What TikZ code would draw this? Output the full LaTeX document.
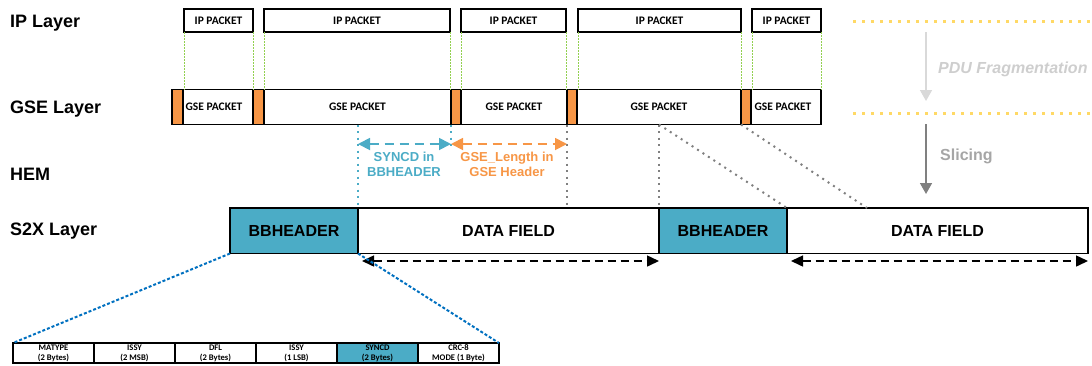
\documentclass[tikz,border=0pt]{standalone}
\usepackage{fontspec}
\setmainfont{Liberation Sans}
\newfontfamily\calib{Carlito}
\usetikzlibrary{arrows.meta}
\definecolor{teal}{HTML}{4BACC6}
\definecolor{orng}{HTML}{F79646}
\definecolor{grn}{HTML}{92D050}
\definecolor{yel}{HTML}{FFD966}
\definecolor{gry}{HTML}{808080}
\definecolor{lgry}{HTML}{D9D9D9}
\definecolor{mgry}{HTML}{A6A6A6}
\definecolor{dblue}{HTML}{0070C0}
\tikzset{
  layerlbl/.style={anchor=west, inner sep=0, font=\fontsize{18}{21}\selectfont\bfseries},
  pkt/.style={draw, line width=1.1pt, inner sep=0, outer sep=0, anchor=north west,
    font=\calib\bfseries\fontsize{11.5}{13}\selectfont},
  hdrmark/.style={draw, fill=orng, line width=1.1pt, inner sep=0, outer sep=0, anchor=north west},
  s2x/.style={draw, line width=1.2pt, inner sep=0, outer sep=0, anchor=north west,
    minimum height=45.5pt, font=\fontsize{16}{18}\selectfont\bfseries},
  cell/.style={draw, line width=1.1pt, inner sep=0, outer sep=0, anchor=north west,
    minimum width=81pt, minimum height=20pt, align=center,
    font=\calib\bfseries\fontsize{8.6}{10}\selectfont},
  grline/.style={grn, line width=1pt, dash pattern=on 1.5pt off 1.5pt},
  gydot/.style={gry, line width=2pt, dash pattern=on 2pt off 4.5pt},
  bldot/.style={teal, line width=2pt, dash pattern=on 2pt off 4.5pt},
  dbline/.style={dblue, line width=2pt, dash pattern=on 3pt off 2pt},
  yeldot/.style={yel, line width=3pt, dash pattern=on 3pt off 6pt},
  blkarr/.style={black, line width=1.5pt, dash pattern=on 8pt off 5pt,
    {Triangle[length=12pt,width=11pt]}-{Triangle[length=12pt,width=11pt]}},
  hemarr/.style={line width=1.8pt, dash pattern=on 9pt off 6pt,
    {Triangle[length=12pt,width=12pt]}-{Triangle[length=12pt,width=12pt]}},
  hemtxt/.style={align=center, inner sep=0, font=\fontsize{13}{15}\selectfont\bfseries},
}
\begin{document}
\begin{tikzpicture}[x=1pt,y=-1pt]
\useasboundingbox (0,0) rectangle (1092,365);

% layer labels
\node[layerlbl] (lip)  at (10,23)  {IP Layer};
\node[layerlbl] (lgse) at (10,109) {GSE Layer};
\node[layerlbl] (lhem) at (10,174) {HEM};
\node[layerlbl] (ls2x) at (10,231) {S2X Layer};

% IP packets
\node[pkt, minimum width=69pt,  minimum height=23pt] (ip1) at (184,9) {IP PACKET};
\node[pkt, minimum width=186pt, minimum height=23pt] (ip2) at (264,9) {IP PACKET};
\node[pkt, minimum width=105pt, minimum height=23pt] (ip3) at (461,9) {IP PACKET};
\node[pkt, minimum width=163pt, minimum height=23pt] (ip4) at (578,9) {IP PACKET};
\node[pkt, minimum width=69pt,  minimum height=23pt] (ip5) at (752,9) {IP PACKET};

% GSE packets
\node[pkt, minimum width=70pt,  minimum height=35pt] (g1) at (183,89.5) {};
\node[pkt, minimum width=187pt, minimum height=35pt] (g2) at (264,89.5) {GSE PACKET};
\node[pkt, minimum width=106pt, minimum height=35pt] (g3) at (461,89.5) {GSE PACKET};
\node[pkt, minimum width=164pt, minimum height=35pt] (g4) at (577,89.5) {GSE PACKET};
\node[pkt, minimum width=70pt,  minimum height=35pt] (g5) at (751,89.5) {};
\node[inner sep=0, font=\calib\bfseries\fontsize{11.5}{13}\selectfont] (g1t) at (214,107) {GSE PACKET};
\node[inner sep=0, font=\calib\bfseries\fontsize{11.5}{13}\selectfont] (g5t) at (783,107) {GSE PACKET};

% orange header markers
\node[hdrmark, minimum width=11pt,   minimum height=35pt] (m1) at (172,89.5) {};
\node[hdrmark, minimum width=11pt,   minimum height=35pt] (m2) at (253,89.5) {};
\node[hdrmark, minimum width=10pt,   minimum height=35pt] (m3) at (451,89.5) {};
\node[hdrmark, minimum width=10pt,   minimum height=35pt] (m4) at (567,89.5) {};
\node[hdrmark, minimum width=10pt,   minimum height=35pt] (m5) at (741,89.5) {};

% green dotted guides
\foreach \n in {ip1,ip2,ip3,ip4,ip5}{
  \draw[grline] (\n.south west) -- (\n.south west |- g1.north);
  \draw[grline] (\n.south east) -- (\n.south east |- g1.north);
}

% S2X layer
\node[s2x, fill=teal, minimum width=128pt] (bb1) at (230,208) {BBHEADER};
\node[s2x, minimum width=301pt] (df1) at (358,208) {DATA FIELD};
\node[s2x, fill=teal, minimum width=128pt] (bb2) at (659,208) {BBHEADER};
\node[s2x, minimum width=301pt] (df2) at (787,208) {DATA FIELD};

% HEM
\coordinate (hemy) at (0,144);
\draw[bldot] (bb1.north east |- g2.south) -- (bb1.north east);
\draw[bldot] (m3.south west) -- ++(0,24);
\draw[gydot] (m4.south west) -- (m4.south west |- df1.north);
\draw[hemarr, teal] (bb1.north east |- hemy) -- (m3.south west |- hemy);
\draw[hemarr, orng] (m3.south west |- hemy) -- (m4.south west |- hemy);
\node[hemtxt, teal] (t1) at (404,164.5) {SYNCD in\\BBHEADER};
\node[hemtxt, orng] (t2) at (507,164.5) {GSE\_Length in\\GSE Header};

% gray dotted slicing guides
\coordinate (d2end) at (867,208);
\draw[gydot] (bb2.north west |- g4.south) -- (bb2.north west);
\draw[gydot] (bb2.north west |- g4.south) -- (bb2.north east);
\draw[gydot] (m5.south west) -- (d2end);

% data field arrows
\draw[blkarr] ([shift={(4,7.5)}]df1.south west) -- ([shift={(0,7.5)}]df1.south east);
\draw[blkarr] ([shift={(4,7.5)}]df2.south west) -- ([shift={(0,7.5)}]df2.south east);

% bottom table
\node[cell] (c1) at (13,343)  {MATYPE\\(2 Bytes)};
\node[cell] (c2) at (94,343)  {ISSY\\(2 MSB)};
\node[cell] (c3) at (175,343) {DFL\\(2 Bytes)};
\node[cell] (c4) at (256,343) {ISSY\\(1 LSB)};
\node[cell, fill=teal] (c5) at (337,343) {SYNCD\\(2 Bytes)};
\node[cell] (c6) at (418,343) {CRC-8\\MODE (1 Byte)};
\draw[dbline] (bb1.south west) -- (c1.north west);
\draw[dbline] (bb1.south east) -- (c6.north east);

% legend
\coordinate (y1a) at (853,21);   \coordinate (y1b) at (1092,21);
\coordinate (y2a) at (853,113);  \coordinate (y2b) at (1092,113);
\draw[yeldot] (y1a) -- (y1b);
\draw[yeldot] (y2a) -- (y2b);
\coordinate (pa) at (926,32);  \coordinate (pb) at (926,101);
\coordinate (sa) at (926,124); \coordinate (sb) at (926,194);
\draw[lgry, line width=1.5pt, -{Triangle[length=11pt,width=12pt]}] (pa) -- (pb);
\draw[gry, line width=1.5pt, -{Triangle[length=11pt,width=12pt]}] (sa) -- (sb);
\node[anchor=west, inner sep=0, text=lgry!95!black, font=\fontsize{16}{18}\selectfont\bfseries\itshape] (pdu) at (938,69) {PDU Fragmentation};
\node[anchor=west, inner sep=0, text=mgry, font=\fontsize{16}{18}\selectfont\bfseries] (slc) at (940,156) {Slicing};
\end{tikzpicture}
\end{document}
